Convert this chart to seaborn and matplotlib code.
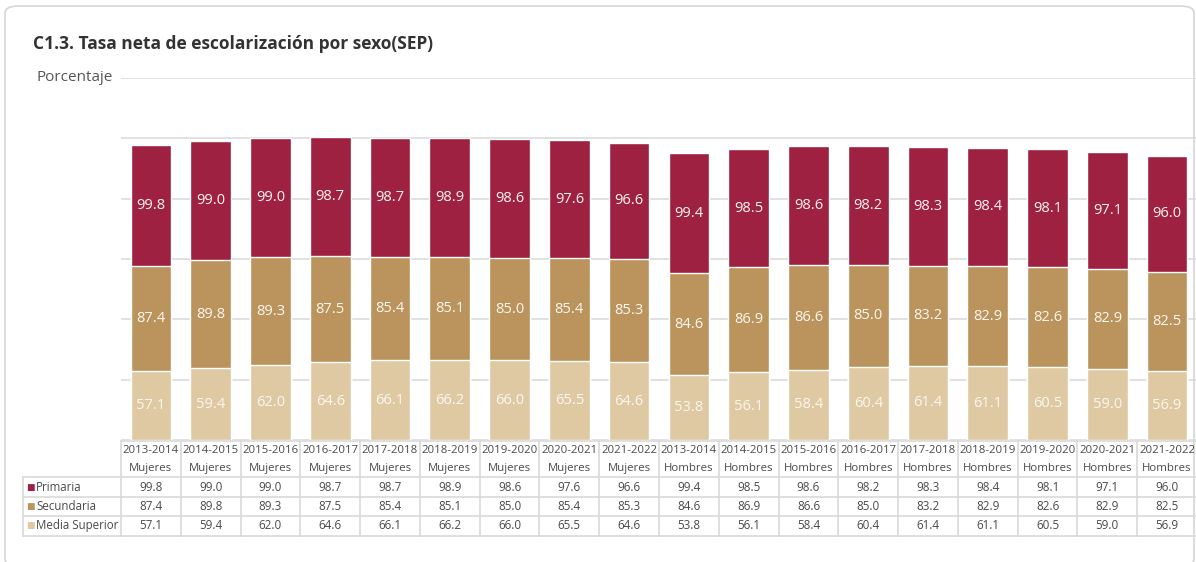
import numpy as np
import pandas as pd
import matplotlib
matplotlib.use("Agg")
import matplotlib.pyplot as plt
from matplotlib.patches import FancyBboxPatch
import seaborn as sns

# ===============================
# DATA
# ===============================
periods = ["2013-2014", "2014-2015", "2015-2016", "2016-2017", "2017-2018",
           "2018-2019", "2019-2020", "2020-2021", "2021-2022"] * 2
sexes = ["Mujeres"] * 9 + ["Hombres"] * 9
primaria = [99.8, 99.0, 99.0, 98.7, 98.7, 98.9, 98.6, 97.6, 96.6,
            99.4, 98.5, 98.6, 98.2, 98.3, 98.4, 98.1, 97.1, 96.0]
secundaria = [87.4, 89.8, 89.3, 87.5, 85.4, 85.1, 85.0, 85.4, 85.3,
              84.6, 86.9, 86.6, 85.0, 83.2, 82.9, 82.6, 82.9, 82.5]
media_superior = [57.1, 59.4, 62.0, 64.6, 66.1, 66.2, 66.0, 65.5, 64.6,
                  53.8, 56.1, 58.4, 60.4, 61.4, 61.1, 60.5, 59.0, 56.9]

series_names = ["Primaria", "Secundaria", "Media Superior"]
colors = {"Primaria": "#9E2142", "Secundaria": "#BA945C", "Media Superior": "#DEC9A3"}

title = "C1.3. Tasa neta de escolarización por sexo(SEP)"
ylabel = "Porcentaje"

df = pd.DataFrame({
    "cat": [f"{p}\n{s}" for p, s in zip(periods, sexes)],
    "Primaria": primaria,
    "Secundaria": secundaria,
    "Media Superior": media_superior,
})
df["top2"] = df["Secundaria"] + df["Media Superior"]
df["top3"] = df["top2"] + df["Primaria"]
order = list(df["cat"])

# ===============================
# FIGURE
# ===============================
W, H = 1196, 562
sns.set_style("white")
plt.rcParams["font.family"] = ["Open Sans", "DejaVu Sans"]
fig = plt.figure(figsize=(W / 100, H / 100), dpi=100)

# card outline (behind everything)
card = FancyBboxPatch((5 / W, 1 - 566 / H), 1189 / W, 560 / H,
                      boxstyle="round,pad=0,rounding_size=0.012",
                      transform=fig.transFigure, facecolor="none",
                      edgecolor="#d6d6d6", linewidth=1.2, zorder=-1)
fig.patches.append(card)

fig.text(33 / W, 1 - 44 / H, title, fontsize=12.5, fontweight="bold",
         color="#333333", va="center", ha="left")

# main plot area (x px 121..1197, y px 78..440)
ax = fig.add_axes([121 / W, 1 - 440 / H, 1076 / W, 362 / H])
ax.set_facecolor("none")

bw = 0.68
for col, name in [("top3", "Primaria"), ("top2", "Secundaria"), ("Media Superior", "Media Superior")]:
    sns.barplot(data=df, x="cat", y=col, order=order, color=colors[name],
                width=bw, saturation=1, ax=ax, zorder=2)

ax.set_ylim(0, 300)
ax.set_xlim(-0.5, len(order) - 0.5)
ax.set_yticks(np.arange(0, 301, 50))
ax.yaxis.grid(True, color="#d9d9d9", linewidth=1.1, zorder=0)
ax.set_axisbelow(True)
ax.tick_params(left=False, bottom=False, labelleft=False, labelbottom=False)
ax.set_xlabel("")
ax.set_ylabel("")
for s in ax.spines.values():
    s.set_visible(False)

fig.text(36 / W, 1 - 77 / H, ylabel, fontsize=11, color="#555555", va="center", ha="left")

# value labels centered in each segment
for i in range(len(order)):
    ms = df["Media Superior"][i]
    sc = df["Secundaria"][i]
    pr = df["Primaria"][i]
    for val, mid in [(ms, ms / 2), (sc, ms + sc / 2), (pr, ms + sc + pr / 2)]:
        ax.text(i, mid, f"{val:.1f}", ha="center", va="center",
                fontsize=10.5, color="#fbf7f0", zorder=5)

# ===============================
# DATA TABLE
# ===============================
col_px = 1076 / len(order)
lab_w = 98 / col_px  # label column width in column units
row_edges = [0, 36, 55.5, 75, 94.5]
tax = fig.add_axes([23 / W, 1 - 536 / H, 1174 / W, 95 / H])
tax.set_xlim(-0.5 - lab_w, len(order) - 0.5)
tax.set_ylim(row_edges[-1] + 0.5, -0.5)
tax.axis("off")

gc = "#d9d9d9"
lw = 1.2
n = len(order)
tax.plot([-0.5, n - 0.5], [0, 0], color=gc, lw=lw, clip_on=False)
for y in row_edges[1:]:
    tax.plot([-0.5 - lab_w, n - 0.5], [y, y], color=gc, lw=lw, clip_on=False)
for k in range(n + 1):
    tax.plot([k - 0.5, k - 0.5], [0, row_edges[-1]], color=gc, lw=lw, clip_on=False)
tax.plot([-0.5 - lab_w] * 2, [row_edges[1], row_edges[-1]], color=gc, lw=lw, clip_on=False)

tcol = "#4a4a4a"
fs = 8.2
for i in range(n):
    tax.text(i, 9, periods[i], ha="center", va="center", fontsize=fs, color=tcol)
    tax.text(i, 27, sexes[i], ha="center", va="center", fontsize=fs, color=tcol)

values = {"Primaria": primaria, "Secundaria": secundaria, "Media Superior": media_superior}
for r, name in enumerate(series_names):
    yc = (row_edges[r + 1] + row_edges[r + 2]) / 2
    tax.text(-0.5 - lab_w + 0.06, yc, "■", ha="left", va="center",
             fontsize=6.5, color=colors[name], family=["DejaVu Sans"])
    tax.text(-0.5 - lab_w + 0.22, yc, name, ha="left", va="center",
             fontsize=8.3, color=tcol)
    for i in range(n):
        tax.text(i, yc, f"{values[name][i]:.1f}", ha="center", va="center",
                 fontsize=8.4, color=tcol)

fig.savefig("out.png", dpi=100)
